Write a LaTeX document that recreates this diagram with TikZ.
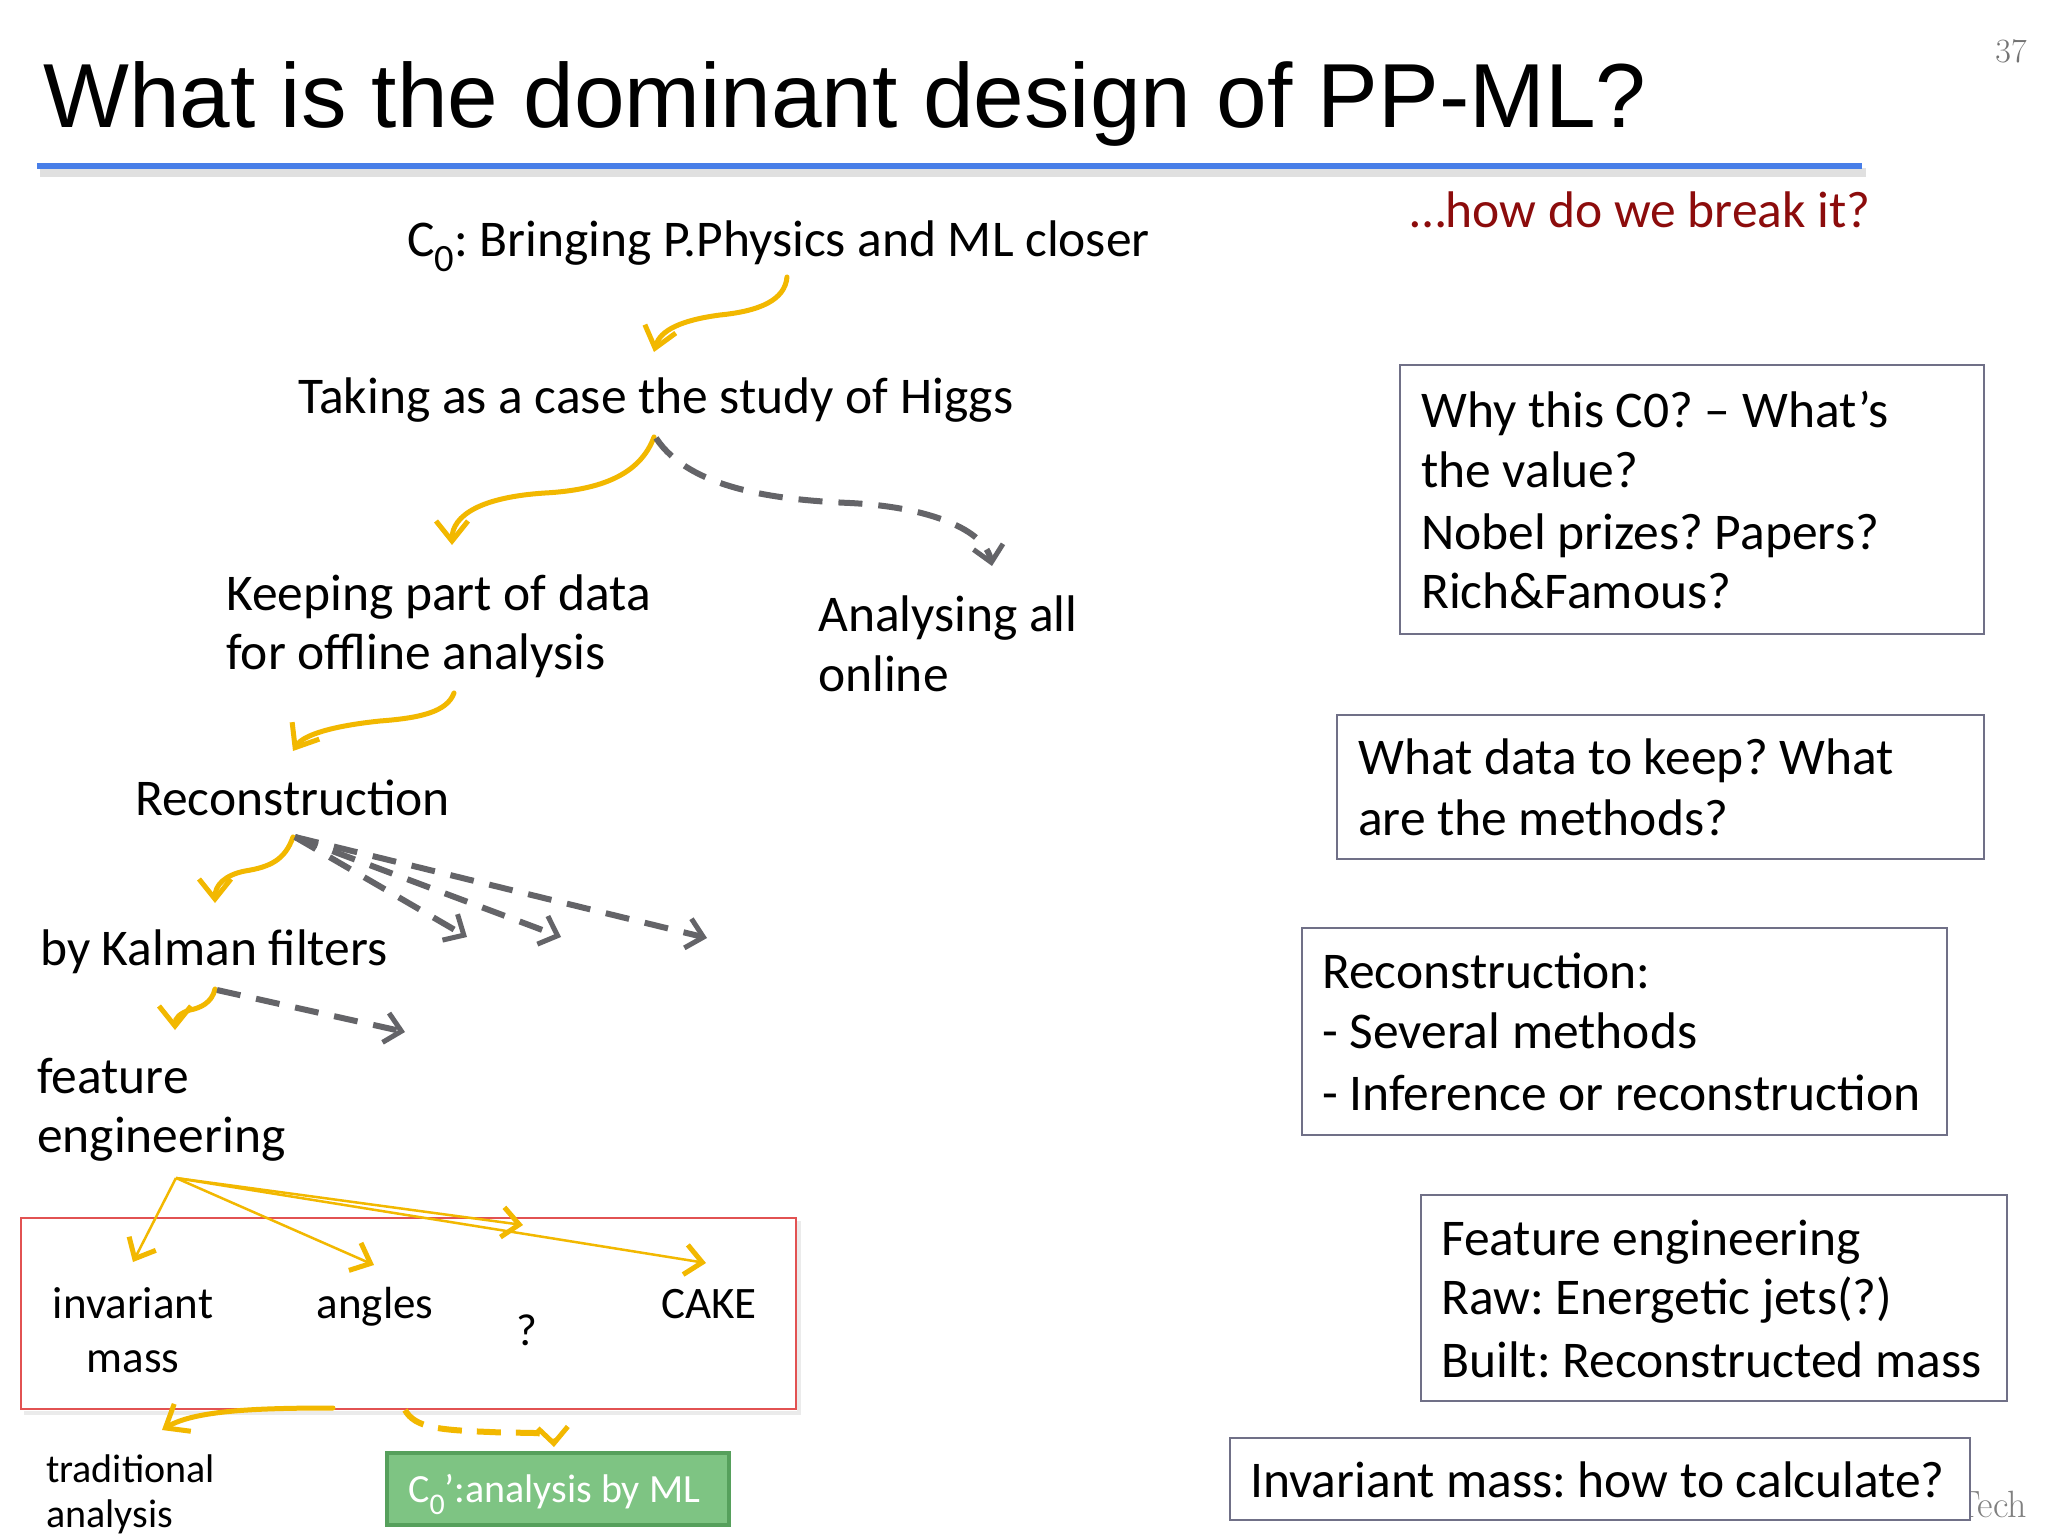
\documentclass[tikz,border=0pt]{standalone}
\usepackage{fontspec}
\newfontfamily\bodyfont{Carlito}
\newfontfamily\titlefont{Liberation Sans}
\usetikzlibrary{arrows.meta}
\frenchspacing
\definecolor{gold}{RGB}{242,184,0}
\definecolor{dgray}{RGB}{100,100,104}
\definecolor{darkred}{RGB}{140,12,12}
\definecolor{boxline}{RGB}{112,112,135}
\definecolor{redbox}{RGB}{226,82,82}
\definecolor{gfill}{RGB}{126,196,131}
\definecolor{gline}{RGB}{86,160,92}
\definecolor{blueline}{RGB}{72,126,232}
\newcommand{\subz}{\raisebox{-0.3em}{\scalebox{0.75}{0}}}
\tikzset{
  txt/.style={font=\bodyfont\fontsize{51.5}{60}\selectfont\frenchspacing, inner sep=0pt, anchor=base west},
  ctxt/.style={font=\bodyfont\fontsize{45}{54}\selectfont, inner sep=0pt, anchor=base},
  smalltxt/.style={font=\bodyfont\fontsize{40}{46}\selectfont, inner sep=0pt, anchor=base west},
  qbox/.style={draw=boxline, line width=2pt, fill=white, anchor=north west, inner sep=0pt},
  ycurl/.style={draw=gold, line width=5pt, line cap=round, -{Straight Barb[length=20pt,width=32pt]}},
  ythin/.style={draw=gold, line width=2.5pt, -{Straight Barb[length=17pt,width=30pt,line width=5pt]}},
  ydash/.style={draw=gold, line width=6pt, dash pattern=on 24pt off 15pt, -{Straight Barb[length=16pt,width=30pt,line width=5pt]}},
  gdash/.style={draw=dgray, line width=6pt, dash pattern=on 24pt off 16pt, -{Straight Barb[length=16pt,width=30pt,line width=5pt]}},
}
\begin{document}
\begin{tikzpicture}[x=1pt,y=-1pt]
\fill[white] (0,0) rectangle (2048,1536);
\useasboundingbox (0,0) rectangle (2048,1536);

% title
\node[font=\titlefont\fontsize{91}{100}\selectfont, anchor=base west, inner sep=0pt] (title) at (43,128) {What is the dominant design of PP-ML?};
\draw[black!12, line width=9pt] (40,172) -- (1866,172);
\draw[blueline, line width=5.5pt] (37,166) -- (1862,166);
\node[font=\fontsize{34}{34}\selectfont, text=black!55, anchor=base, inner sep=0pt] (pnum) at (2011,63) {37};
\node[font=\bodyfont\fontsize{51.5}{60}\selectfont, text=darkred, anchor=base west, inner sep=0pt] (break) at (1410,227) {…how do we break it?};

% left flow text
\node[txt] (c0) at (407,256) {C\subz: Bringing P.Physics and ML closer};
\node[txt] (taking) at (298,413) {Taking as a case the study of Higgs};
\node[txt] (keep1) at (226,610) {Keeping part of data};
\node[txt] (keep2) at (226,669) {for offline analysis};
\node[txt] (anal1) at (818,631) {Analysing all};
\node[txt] (anal2) at (818,691) {online};
\node[txt] (recon) at (135,815) {Reconstruction};
\node[txt] (kalman) at (40,965) {by Kalman filters};
\node[txt] (feat1) at (37,1093) {feature};
\node[txt] (feat2) at (37,1152) {engineering};

% red box
\draw[black!8, line width=4pt] (24,1413) -- (799,1413) -- (799,1221);
\node[draw=redbox, line width=2pt, minimum width=775pt, minimum height=191pt, anchor=north west, inner sep=0pt] (rbox) at (20,1217) {};
\node[ctxt] (inv1) at (133,1318) {invariant};
\node[ctxt] (inv2) at (133,1372) {mass};
\node[ctxt] (angles) at (375,1318) {angles};
\node[ctxt] (qm) at (527,1345) {?};
\node[ctxt] (cake) at (709,1318) {CAKE};

\node[smalltxt] (trad1) at (46,1482) {traditional};
\node[smalltxt] (trad2) at (46,1527) {analysis};

\node[draw=gline, fill=gfill, line width=4pt, minimum width=342pt, minimum height=72pt, anchor=north west, inner sep=0pt] (ml) at (385,1451) {};
\node[smalltxt, text=white] (mltxt) at (408,1502) {C\subz’:analysis by ML};

% right boxes
\node[qbox, minimum width=584pt, minimum height=269pt] (bA) at (1399,364) {};
\node[txt] (a1) at (1421,427) {Why this C0? – What’s};
\node[txt] (a2) at (1421,487) {the value?};
\node[txt] (a3) at (1421,549) {Nobel prizes? Papers?};
\node[txt] (a4) at (1421,608) {Rich\&Famous?};

\node[qbox, minimum width=647pt, minimum height=144pt] (bB) at (1336,714) {};
\node[txt] (b1) at (1358,774) {What data to keep? What};
\node[txt] (b2) at (1358,835) {are the methods?};

\node[qbox, minimum width=645pt, minimum height=207pt] (bC) at (1301,927) {};
\node[txt] (cc1) at (1322,988) {Reconstruction:};
\node[txt] (cc2) at (1322,1048) {- Several methods};
\node[txt] (cc3) at (1322,1110) {- Inference or reconstruction};

\node[qbox, minimum width=586pt, minimum height=206pt] (bD) at (1420,1194) {};
\node[txt] (d1) at (1441,1255) {Feature engineering};
\node[txt] (d2) at (1441,1314) {Raw: Energetic jets(?)};
\node[txt] (d3) at (1441,1377) {Built: Reconstructed mass};

\node[font=\fontsize{38}{38}\selectfont, text=black!50, anchor=base east, inner sep=0pt] (tech) at (2027,1517) {Tech};
\node[qbox, minimum width=740pt, minimum height=82pt] (bE) at (1229,1437) {};
\node[txt] (e1) at (1250,1497) {Invariant mass: how to calculate?};

% connector end points
\coordinate (c0s) at (787,277);  \coordinate (takn) at (654,352);
\coordinate (taks) at (654,437); \coordinate (keepn) at (452,545);
\coordinate (takd) at (656,438); \coordinate (analn) at (992,566);
\coordinate (keeps) at (454,693); \coordinate (recn) at (293,751);
\coordinate (recs) at (293,837); \coordinate (kaln) at (215,903);
\coordinate (recd) at (295,837);
\coordinate (rd1) at (467,937); \coordinate (rd2) at (561,937); \coordinate (rd3) at (707,938);
\coordinate (kals) at (215,989); \coordinate (featn) at (175,1030);
\coordinate (kald) at (217,990); \coordinate (kd1) at (405,1032);
\coordinate (fes) at (176,1178);
\coordinate (tinv) at (133,1262); \coordinate (tang) at (374,1265);
\coordinate (tq) at (523,1225); \coordinate (tcake) at (706,1263);
\coordinate (rbs1) at (333,1408); \coordinate (tradn) at (162,1430);
\coordinate (rbs2) at (405,1410); \coordinate (mln) at (554,1447);

% connectors
\draw[ycurl] (c0s) .. controls (785,300) and (760,311) .. (720,315) .. controls (682,320) and (660,330) .. (takn);
\draw[ycurl] (taks) .. controls (640,475) and (600,490) .. (545,493) .. controls (482,497) and (452,515) .. (keepn);
\draw[gdash] (takd) .. controls (690,490) and (780,500) .. (850,503) .. controls (930,507) and (985,530) .. (analn);
\draw[ycurl] (keeps) .. controls (447,712) and (420,718) .. (380,721) .. controls (332,726) and (303,735) .. (recn);
\draw[ycurl] (recs) .. controls (285,860) and (270,867) .. (245,871) .. controls (225,875) and (215,885) .. (kaln);
\draw[gdash] (recd) -- (rd1);
\draw[gdash] (recd) -- (rd2);
\draw[gdash] (recd) -- (rd3);
\draw[ycurl] (kals) .. controls (212,1003) and (200,1008) .. (190,1010) .. controls (180,1013) and (175,1018) .. (featn);
\draw[gdash] (kald) -- (kd1);
\draw[ythin] (fes) -- (tinv);
\draw[ythin] (fes) -- (tang);
\draw[ythin] (fes) -- (tq);
\draw[ythin] (fes) -- (tcake);
\draw[ycurl] (rbs1) .. controls (260,1408) and (195,1410) .. (tradn);
\draw[ydash] (rbs2) .. controls (415,1428) and (440,1430) .. (490,1432) .. controls (530,1434) and (553,1430) .. (mln);
\end{tikzpicture}
\end{document}
